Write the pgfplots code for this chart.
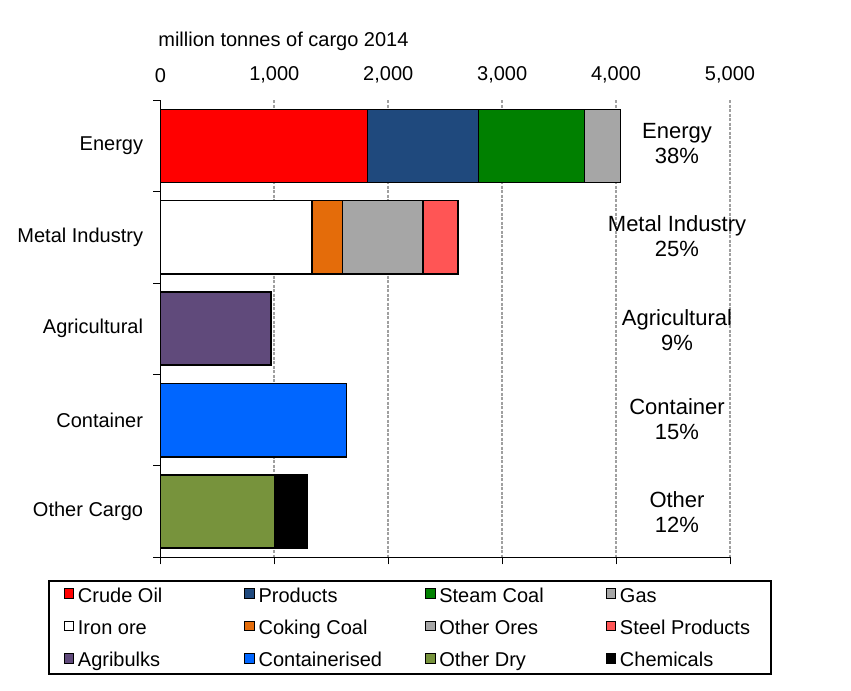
\documentclass[border=0pt]{standalone}
\usepackage{pgfplots}
\pgfplotsset{compat=1.18}
\usepackage{fontspec}
\setmainfont{Liberation Sans}
\definecolor{cCrude}{RGB}{255,0,0}
\definecolor{cProd}{RGB}{31,73,125}
\definecolor{cSteam}{RGB}{0,128,0}
\definecolor{cGas}{RGB}{166,166,166}
\definecolor{cIron}{RGB}{255,255,255}
\definecolor{cCoking}{RGB}{228,108,10}
\definecolor{cOres}{RGB}{166,166,166}
\definecolor{cSteel}{RGB}{255,85,85}
\definecolor{cAgri}{RGB}{96,74,123}
\definecolor{cCont}{RGB}{0,102,255}
\definecolor{cDry}{RGB}{119,147,60}
\definecolor{cChem}{RGB}{0,0,0}
\definecolor{cGrid}{RGB}{160,160,160}
\newcommand\LE[1]{\makebox[164.5bp][l]{\strut #1}}
\newcommand\LF[1]{\makebox[134bp][l]{\strut #1}}
\begin{document}
\fontsize{20bp}{24bp}\selectfont
\begin{tikzpicture}
\begin{axis}[
  name=ax,
  scale only axis, width=569.5bp, height=457.3bp,
  xbar stacked, bar width=73.2bp,
  legend image code/.code={\draw[#1,/tikz/.cd,draw=black,line width=0.7bp] (0bp,-3bp) rectangle (9.5bp,6.5bp); \path (11bp,0bp);},
  xmin=0, xmax=5000, ymin=-0.5, ymax=4.5, y dir=reverse,
  clip=false,
  axis line style={draw=none},
  xtick={0,1000,2000,3000,4000,5000}, scaled x ticks=false,
  xtick pos=lower, xticklabel pos=upper,
  xticklabel shift=3bp,
  ytick={-0.5,0.5,1.5,2.5,3.5,4.5},
  yticklabels={Energy,Metal Industry,Agricultural,Container,Other Cargo,{}},
  yticklabel style={yshift=-45.73bp},
  yticklabel shift=3.5bp,
  ytick pos=left,
  tick align=outside, major tick length=7bp,
  tick style={black, line width=0.9bp},
  xmajorgrids, grid style={cGrid, line width=1.8bp, dash pattern=on 3bp off 1.5bp},
  /pgf/number format/assume math mode=true,
  /pgf/number format/1000 sep={,},
  legend columns=4, legend cell align=left,
  legend style={at={(axis description cs:-0.1974,-0.0496)}, anchor=north west,
    draw=black, line width=1.6bp, inner xsep=15bp, inner ysep=1.5bp,
    row sep=6.5bp,
    nodes={inner xsep=2bp, inner ysep=3bp},
    /tikz/every even column/.append style={column sep=0pt}},
]
\addplot[fill=cCrude, draw=black, line width=0.8bp] coordinates {(1817,0) (0,1) (0,2) (0,3) (0,4)};
\addplot[fill=cProd, draw=black, line width=0.8bp] coordinates {(974,0) (0,1) (0,2) (0,3) (0,4)};
\addplot[fill=cSteam, draw=black, line width=0.8bp] coordinates {(934,0) (0,1) (0,2) (0,3) (0,4)};
\addplot[fill=cGas, draw=black, line width=0.8bp] coordinates {(313,0) (0,1) (0,2) (0,3) (0,4)};
\addplot[fill=cIron, draw=black, line width=1.4bp] coordinates {(0,0) (1331,1) (0,2) (0,3) (0,4)};
\addplot[fill=cCoking, draw=black, line width=1.6bp] coordinates {(0,0) (266,1) (0,2) (0,3) (0,4)};
\addplot[fill=cOres, draw=black, line width=1.6bp] coordinates {(0,0) (709,1) (0,2) (0,3) (0,4)};
\addplot[fill=cSteel, draw=black, line width=1.6bp] coordinates {(0,0) (304,1) (0,2) (0,3) (0,4)};
\addplot[fill=cAgri, draw=black, line width=1.6bp] coordinates {(0,0) (0,1) (971,2) (0,3) (0,4)};
\addplot[fill=cCont, draw=black, line width=1.6bp] coordinates {(0,0) (0,1) (0,2) (1632,3) (0,4)};
\addplot[fill=cDry, draw=black, line width=1.6bp] coordinates {(0,0) (0,1) (0,2) (0,3) (1008,4)};
\addplot[fill=cChem, draw=black, line width=1.6bp] coordinates {(0,0) (0,1) (0,2) (0,3) (282,4)};
\legend{\LE{Crude Oil},\LE{Products},\LE{Steam Coal},\LF{Gas},
        \LE{Iron ore},\LE{Coking Coal},\LE{Other Ores},\LF{Steel Products},
        \LE{Agribulks},\LE{Containerised},\LE{Other Dry},\LF{Chemicals}}
\node[align=center, font=\fontsize{22bp}{25bp}\selectfont] at (axis cs:4535,-0.02) {Energy\\38\%};
\node[align=center, font=\fontsize{22bp}{25bp}\selectfont] at (axis cs:4535,0.99) {Metal Industry\\25\%};
\node[align=center, font=\fontsize{22bp}{25bp}\selectfont] at (axis cs:4535,2.02) {Agricultural\\9\%};
\node[align=center, font=\fontsize{22bp}{25bp}\selectfont] at (axis cs:4535,2.99) {Container\\15\%};
\node[align=center, font=\fontsize{22bp}{25bp}\selectfont] at (axis cs:4535,4.01) {Other\\12\%};
\node[anchor=base west, inner sep=0pt] at (axis description cs:-0.004,1.116) {million tonnes of cargo 2014};
\end{axis}
\draw[black, line width=1bp] (ax.north west) -- (ax.south west) -- (ax.south east);
\pgfresetboundingbox
\path[use as bounding box] ([shift={(-160.4bp,-132.7bp)}]ax.south west) rectangle ([shift={(121bp,100bp)}]ax.north east);
\end{tikzpicture}
\end{document}
